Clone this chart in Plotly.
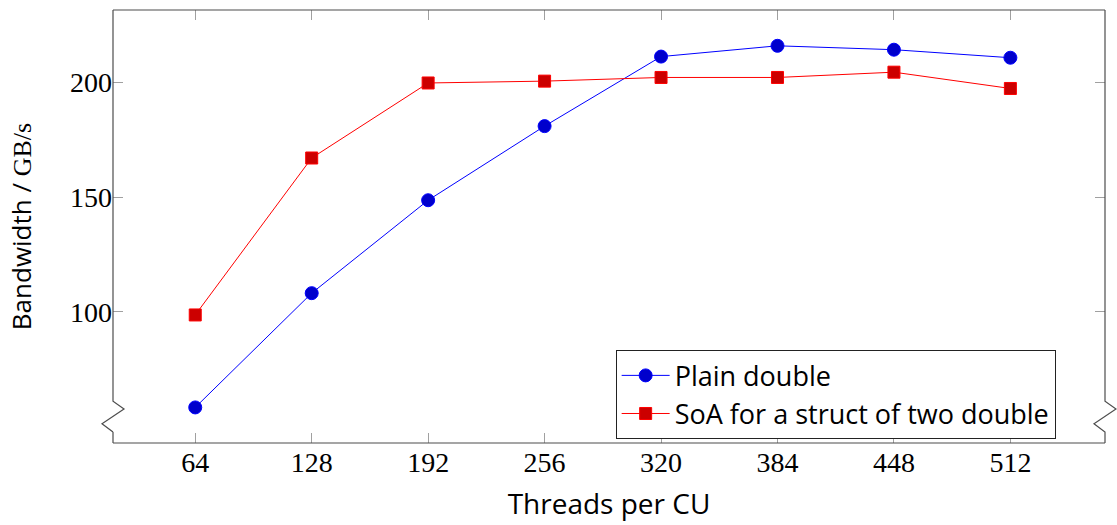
import plotly.graph_objects as go

threads = [64, 128, 192, 256, 320, 384, 448, 512]
plain_double = [58.4, 108.2, 148.7, 181.0, 211.3, 216.0, 214.3, 210.8]
soa_two_double = [98.7, 167.1, 199.8, 200.6, 202.2, 202.2, 204.5, 197.4]
y_ticks = [100, 150, 200]

SERIF = "Liberation Serif"
SANS = "Open Sans"

fig = go.Figure()
fig.add_trace(go.Scatter(
    x=threads, y=plain_double, mode="lines+markers", name="Plain double",
    line=dict(color="#0000ff", width=1),
    marker=dict(symbol="circle", size=13, color="#0000cc", line=dict(color="#0000ff", width=1)),
    cliponaxis=False,
))
fig.add_trace(go.Scatter(
    x=threads, y=soa_two_double, mode="lines+markers", name="SoA for a struct of two double",
    line=dict(color="#ff0000", width=1),
    marker=dict(symbol="square", size=12, color="#cc0000", line=dict(color="#ff0000", width=1)),
    cliponaxis=False,
))

frame_color = "#4d4d4d"
tick_color = "#a0a0a0"

# frame with broken-axis zigzags (domain coordinates)
def zig(x0, dx):
    return (f" L {x0},0.0963 L {x0 + dx},0.0787 L {x0 - dx},0.0443 L {x0},0.0252 ")

left = "M 0,0.0252 L 0,0" + " M 0,1 L 0,0.0963" + zig(0, 0.0111)
right = "M 1,1 L 1,0.0963" + zig(1, 0.0111) + " L 1,0"
topbot = "M 0,1 L 1,1 M 0,0 L 1,0"
shapes = []
for p in [left, right, topbot]:
    shapes.append(dict(type="path", path=p, xref="paper", yref="paper",
                       line=dict(color=frame_color, width=1.2), layer="above"))
fig.update_layout(shapes=shapes)

fig.update_layout(
    width=1117, height=525,
    margin=dict(l=113, r=12, t=10, b=79),
    paper_bgcolor="white", plot_bgcolor="white",
    showlegend=True,
    legend=dict(
        x=0.5067, y=0.214, xanchor="left", yanchor="top",
        bgcolor="white", bordercolor="#222222", borderwidth=1,
        font=dict(family=SANS, size=27, color="black"),
        itemwidth=48, tracegroupgap=0,
    ),
    xaxis=dict(
        range=[18.8, 564], tickvals=threads, ticktext=[str(t) for t in threads],
        ticks="inside", ticklen=10, tickcolor=tick_color, tickwidth=1,
        mirror="ticks", showline=False, showgrid=False, zeroline=False,
        tickfont=dict(family=SERIF, size=28, color="black"),
        title=dict(text="Threads per CU", font=dict(family=SANS, size=28, color="black"), standoff=17),
    ),
    yaxis=dict(
        range=[42.9, 231.6], tickvals=y_ticks, ticktext=[str(v) for v in y_ticks],
        ticks="inside", ticklen=10, tickcolor=tick_color, tickwidth=1,
        mirror="ticks", showline=False, showgrid=False, zeroline=False,
        tickfont=dict(family=SERIF, size=28, color="black"),
        title=dict(text="Bandwidth / <span style='font-family:Liberation Serif'>GB/s</span>",
                   font=dict(family=SANS, size=26, color="black"), standoff=30),
    ),
)

fig.write_html("out.html")
